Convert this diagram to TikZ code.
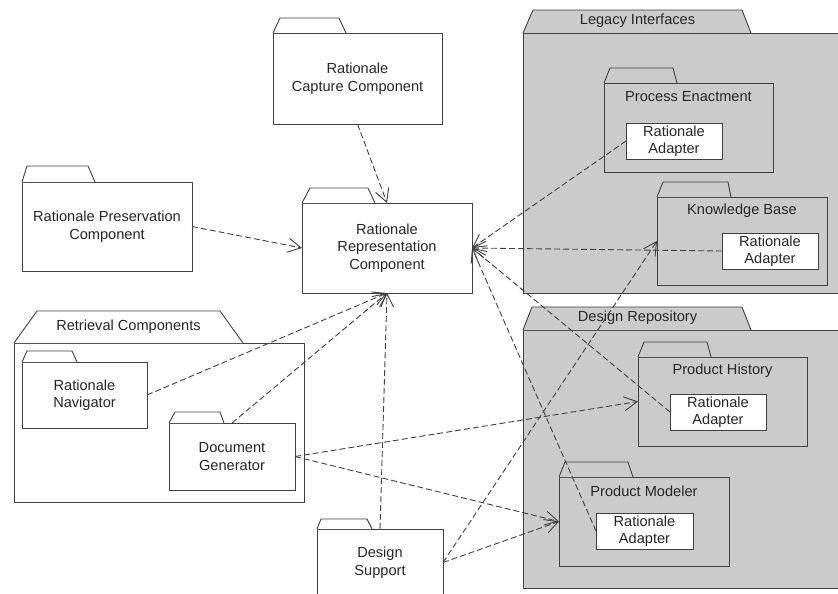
\documentclass[tikz,border=0pt]{standalone}
\usepackage{fontspec}
\setmainfont{Liberation Sans}
\usetikzlibrary{arrows.meta,calc}

\definecolor{lc}{HTML}{404040}
\definecolor{tc}{HTML}{262626}
\definecolor{pkgfill}{HTML}{CBCBCB}
\newcommand\lblfont{\fontsize{14.6}{17.5}\selectfont}

% Folder tab on top of a package body:
% #1 node, #2 top-left offset, #3 top-right offset, #4 base-right offset, #5 height, #6 fill
\newcommand\foldertab[6]{%
  \filldraw[draw=lc, line width=0.9pt, line join=round, fill=#6]
    (#1.north west) -- ($(#1.north west)+(#2,-#5)$)
    -- ($(#1.north west)+(#3,-#5)$) -- ($(#1.north west)+(#4,0)$);}

\tikzset{
  pkg/.style={draw=lc, line width=0.9pt, inner sep=0pt, outer sep=0pt,
              align=center, font=\lblfont, text=tc},
  dims/.style 2 args={minimum width=#1pt, minimum height=#2pt},
  gray pkg/.style={pkg, fill=pkgfill},
  white pkg/.style={pkg, fill=white},
  caption/.style={font=\lblfont, text=tc, inner sep=0pt, align=center},
  dep/.style={draw=lc, line width=0.9pt, dash pattern=on 6pt off 3pt,
              -{Straight Barb[length=13pt,width=14pt,line width=0.9pt]}},
}

\begin{document}
\begin{tikzpicture}[x=1pt, y=-1pt]
\useasboundingbox (0,0) rectangle (838,594);
\clip (0,0) rectangle (838,594);
\fill[white] (0,0) rectangle (838,594);

% --- left and centre packages ---
\node[white pkg, dims={169}{91}] (capture) at (357.5,78.5) {Rationale\\Capture Component};
\foldertab{capture}{7}{66}{73}{15}{white}

\node[white pkg, dims={170}{90}] (repr) at (387,248) {Rationale\\Representation\\Component};
\foldertab{repr}{8}{66}{73}{15}{white}

\node[white pkg, dims={170}{89}] (preserve) at (107,226.5) {Rationale Preservation\\Component};
\foldertab{preserve}{5}{66}{73}{16}{white}

\node[white pkg, dims={290}{159}] (retrieval) at (159,422.5) {};
\foldertab{retrieval}{23}{206}{229}{32}{white}
\node[caption] (retrievalLbl) at (128.5,327) {Retrieval Components};

\node[white pkg, dims={125}{66}] (navigator) at (84.5,395) {Rationale\\Navigator};
\foldertab{navigator}{5}{50}{55}{11}{white}

\node[white pkg, dims={126}{67}] (docgen) at (232,456.5) {Document\\Generator};
\foldertab{docgen}{6}{51}{55}{11}{white}

\node[white pkg, dims={126}{67}] (support) at (380,562.5) {Design\\Support};
\foldertab{support}{4}{50}{55}{10}{white}

% --- Legacy Interfaces ---
\node[gray pkg, dims={337}{260}] (legacy) at (691.5,163) {};
\foldertab{legacy}{10}{219}{228}{23}{pkgfill}
\node[caption] (legacyLbl) at (637.5,21) {Legacy Interfaces};

\node[gray pkg, dims={169}{89}] (pe) at (688.5,127.5) {};
\foldertab{pe}{6}{69}{73}{15}{pkgfill}
\node[caption] (peLbl) at ([yshift=-14pt]pe.north) {Process Enactment};
\node[white pkg, dims={96}{36}] (peAdapter) at (674,141) {Rationale\\Adapter};

\node[gray pkg, dims={170}{88}] (kb) at (742,241) {};
\foldertab{kb}{6}{71}{74}{15}{pkgfill}
\node[caption] (kbLbl) at ([yshift=-14pt]kb.north) {Knowledge Base};
\node[white pkg, dims={96}{36}] (kbAdapter) at (770,251) {Rationale\\Adapter};

% --- Design Repository ---
\node[gray pkg, dims={337}{258}] (repo) at (691.5,459) {};
\foldertab{repo}{9}{219}{228}{23}{pkgfill}
\node[caption] (repoLbl) at (637.5,318) {Design Repository};

\node[gray pkg, dims={169}{89}] (ph) at (722.5,401.5) {};
\foldertab{ph}{6}{69}{73}{15}{pkgfill}
\node[caption] (phLbl) at ([yshift=-14pt]ph.north) {Product History};
\node[white pkg, dims={96}{36}] (phAdapter) at (718,412) {Rationale\\Adapter};

\node[gray pkg, dims={170}{89}] (pm) at (644,521.5) {};
\foldertab{pm}{6}{69}{74}{15}{pkgfill}
\node[caption] (pmLbl) at ([yshift=-14pt]pm.north) {Product Modeler};
\node[white pkg, dims={97}{36}] (pmAdapter) at (644.5,531) {Rationale\\Adapter};

% --- dependencies ---
\draw[dep] (capture.south) -- (repr.north);
\draw[dep] (preserve.east) -- (repr.west);
\draw[dep] (peAdapter.west) -- (repr.east);
\draw[dep] (kbAdapter.west) -- (repr.east);
\draw[dep] (phAdapter.west) -- (repr.east);
\draw[dep] (pmAdapter.west) -- (repr.east);
\draw[dep] (navigator.east) -- (repr.south);
\draw[dep] (docgen.north) -- (repr.south);
\draw[dep] (support.north) -- (repr.south);
\draw[dep] (docgen.east) -- (ph.west);
\draw[dep] (docgen.east) -- (pm.west);
\draw[dep] (support.east) -- (pm.west);
\draw[dep] (support.east) -- (kb.west);
\end{tikzpicture}
\end{document}
